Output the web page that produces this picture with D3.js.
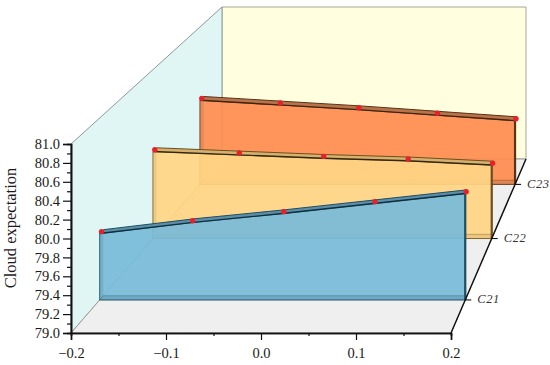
<!DOCTYPE html>
<html>
<head>
<meta charset="utf-8">
<script src="https://cdn.jsdelivr.net/npm/d3@7"></script>
<style>
  html, body { margin: 0; padding: 0; background: #fff; }
  svg { display: block; }
  text { font-family: "Liberation Serif", serif; fill: #1a1a1a; }
</style>
</head>
<body>
<svg id="chart" width="550" height="365"></svg>
<script>
// values
const xValues = [-0.2, -0.1, 0, 0.1, 0.2];
const c21Values = [79.73, 79.85, 79.95, 80.06, 80.17];
const c22Values = [80.03, 79.99, 79.95, 79.92, 79.87];
const c23Values = [80.07, 80.01, 79.95, 79.88, 79.81];
const categories = ["C21", "C22", "C23"];
const xTicks = [-0.2, -0.1, 0, 0.1, 0.2];
const xMinorTicks = [-0.15, -0.05, 0.05, 0.15];
const yTicks = [79, 79.2, 79.4, 79.6, 79.8, 80, 80.2, 80.4, 80.6, 80.8, 81];
const yMinorTicks = [79.1, 79.3, 79.5, 79.7, 79.9, 80.1, 80.3, 80.5, 80.7, 80.9];

const svg = d3.select("#chart");

// front plane of the box
const x = d3.scaleLinear().domain([-0.2, 0.2]).range([71, 451]);
const y = d3.scaleLinear().domain([79, 81]).range([333, 144]);

// how the box shrinks going back, 0 = front, 1 = back wall
const leftAt = d3.scaleLinear().domain([0, 1]).range([71, 222]);
const rightAt = d3.scaleLinear().domain([0, 1]).range([451, 526]);
const bottomAt = d3.scaleLinear().domain([0, 1]).range([333, 159]);
const topAt = d3.scaleLinear().domain([0, 1]).range([144, 7]);
const depth = d3.scaleOrdinal().domain(categories).range([0.19, 0.543, 0.854]);

function project(xv, yv, t) {
  const px = x.copy().range([leftAt(t), rightAt(t)]);
  const py = y.copy().range([bottomAt(t), topAt(t)]);
  return [px(xv), py(yv)];
}

const poly = d3.line();
const [x0, x1] = x.domain();
const [y0, y1] = y.domain();

// box walls
svg.append("path")
  .attr("d", poly([project(x0, y0, 1), project(x1, y0, 1), project(x1, y1, 1), project(x0, y1, 1)]) + "Z")
  .attr("fill", "#ffffdf").attr("stroke", "#a8a894").attr("stroke-width", 1);
svg.append("path")
  .attr("d", poly([project(x0, y0, 0), project(x0, y0, 1), project(x0, y1, 1), project(x0, y1, 0)]) + "Z")
  .attr("fill", "#dff6f5").attr("stroke", "#8a9a9a").attr("stroke-width", 1);
svg.append("path")
  .attr("d", poly([project(x0, y0, 0), project(x1, y0, 0), project(x1, y0, 1), project(x0, y0, 1)]) + "Z")
  .attr("fill", "#efefef").attr("stroke", "#9a9a9a").attr("stroke-width", 1);

// one slab per category, drawn back to front
const series = [
  { name: "C23", values: c23Values, face: "#ff8d50", top: "#b9734a", edge: "#5a3418", rim: "#3d2510" },
  { name: "C22", values: c22Values, face: "#ffd584", top: "#d6b06e", edge: "#6b5020", rim: "#33280f" },
  { name: "C21", values: c21Values, face: "#78bbd8", top: "#5b8ea8", edge: "#1f4f62", rim: "#0f2f3e" }
];
const thick = 0.024;

series.forEach(function (s) {
  const t = depth(s.name);
  const g = svg.append("g");
  const rows = xValues.map((d, i) => ({ x: d, v: s.values[i] }));
  const front = rows.map((d) => project(d.x, d.v, t));
  const back = rows.map((d) => project(d.x, d.v, t + thick));

  // front sheet
  g.append("path")
    .attr("d", poly([project(x0, y0, t), project(x1, y0, t)].concat(front.slice().reverse())) + "Z")
    .attr("fill", s.face).attr("fill-opacity", 0.93)
    .attr("stroke", s.edge).attr("stroke-width", 0.9);

  // floor and left strips seen through the sheet
  g.append("path")
    .attr("d", poly([project(x0, y0, t), project(x1, y0, t), project(x1, y0, t + thick), project(x0, y0, t + thick)]) + "Z")
    .attr("fill", s.top).attr("fill-opacity", 0.45)
    .attr("stroke", s.edge).attr("stroke-opacity", 0.5).attr("stroke-width", 0.7);
  g.append("path")
    .attr("d", poly([project(x0, y0, t), project(x0, y0, t + thick), back[0], front[0]]) + "Z")
    .attr("fill", s.top).attr("fill-opacity", 0.35);

  // top ribbon along the values
  g.append("path")
    .attr("d", poly(front.concat(back.slice().reverse())) + "Z")
    .attr("fill", s.top);
  g.append("path").attr("d", poly(back)).attr("fill", "none")
    .attr("stroke", s.edge).attr("stroke-width", 1);
  g.append("path").attr("d", poly(front)).attr("fill", "none")
    .attr("stroke", s.rim).attr("stroke-width", 1.4);

  // heavy right edge
  g.append("path")
    .attr("d", poly([project(x1, y0, t), front[front.length - 1]]))
    .attr("stroke", s.edge).attr("stroke-width", 2.2).attr("fill", "none");

  g.selectAll("circle")
    .data(rows)
    .enter()
    .append("circle")
    .attr("cx", (d) => project(d.x, d.v, t + thick / 2)[0])
    .attr("cy", (d) => project(d.x, d.v, t + thick / 2)[1])
    .attr("r", 2.7)
    .attr("fill", "#e8202a");
});

// axes
const xAxis = svg.append("g")
  .attr("transform", "translate(0," + y(y0) + ")")
  .call(d3.axisBottom(x).tickValues(xTicks).tickFormat(d3.format(".1f")).tickSize(7).tickPadding(8));
const xMinor = svg.append("g")
  .attr("transform", "translate(0," + y(y0) + ")")
  .call(d3.axisBottom(x).tickValues(xMinorTicks).tickFormat("").tickSize(3));
const yAxis = svg.append("g")
  .attr("transform", "translate(" + x(x0) + ",0)")
  .call(d3.axisLeft(y).tickValues(yTicks).tickFormat(d3.format(".1f")).tickSize(8).tickPadding(3));
const yMinor = svg.append("g")
  .attr("transform", "translate(" + x(x0) + ",0)")
  .call(d3.axisLeft(y).tickValues(yMinorTicks).tickFormat("").tickSize(4));

[xAxis, xMinor, yAxis, yMinor].forEach(function (a) {
  a.selectAll("path, line").attr("stroke", "#111").attr("stroke-width", 1.2);
  a.selectAll("path").attr("stroke-width", 1.6);
  a.selectAll("text").style("font-size", "14.5px").style("font-family", '"Liberation Serif", serif');
});

// depth axis on the right of the floor
svg.append("path")
  .attr("d", poly([project(x1, y0, 0), project(x1, y0, 1)]))
  .attr("stroke", "#111").attr("stroke-width", 1.4).attr("fill", "none");

const depthTicks = svg.append("g")
  .selectAll("g")
  .data(categories)
  .enter()
  .append("g")
  .attr("transform", (d) => "translate(" + project(x1, y0, depth(d)) + ")");
depthTicks.append("line")
  .attr("x2", 6)
  .attr("stroke", "#111").attr("stroke-width", 1.1);
depthTicks.append("text")
  .attr("x", 12)
  .attr("y", 3.5)
  .attr("font-style", "italic")
  .attr("font-size", 12.5)
  .attr("textLength", 22)
  .style("fill", "#333")
  .text((d) => d);

svg.append("text")
  .attr("transform", "translate(16,228) rotate(-90)")
  .attr("text-anchor", "middle")
  .attr("font-size", 16.5)
  .text("Cloud expectation");
</script>
</body>
</html>
